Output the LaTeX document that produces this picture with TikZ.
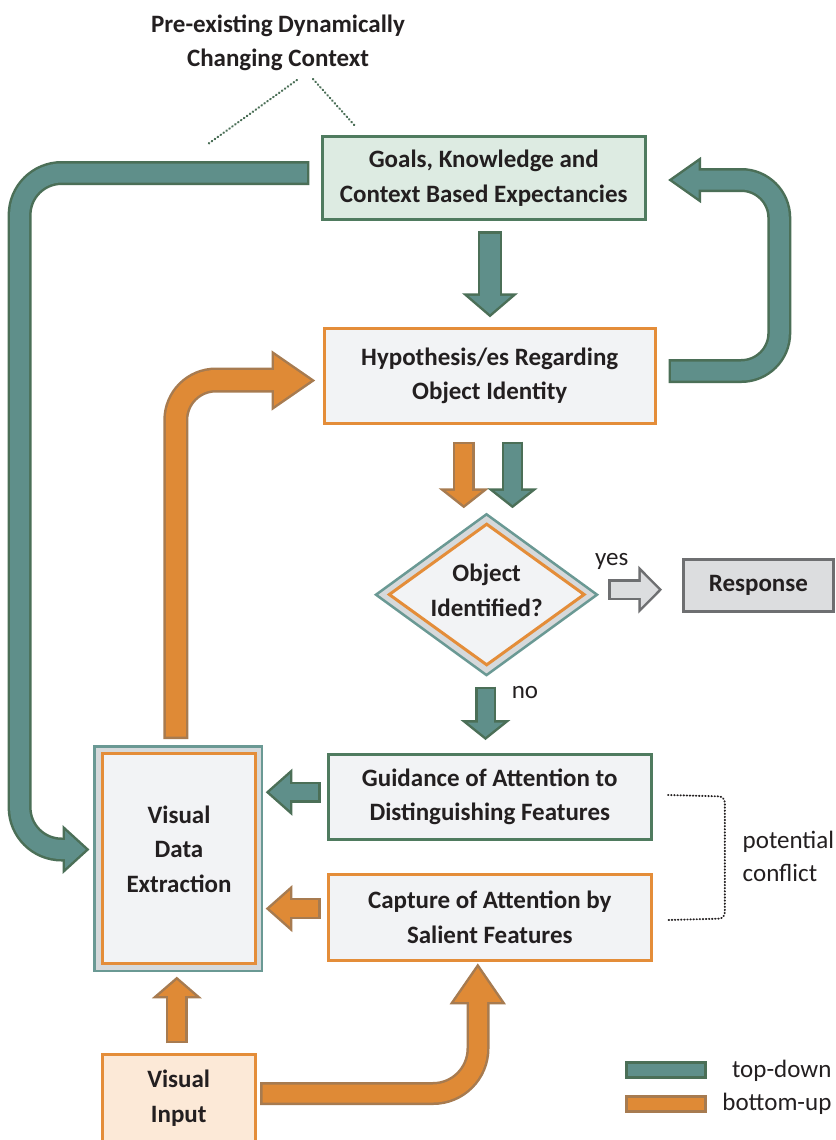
\documentclass[tikz,border=0pt]{standalone}
\usepackage{fontspec}
\setmainfont{Carlito}
\usetikzlibrary{calc}
\definecolor{tdfill}{HTML}{5F8F8A}
\definecolor{tdline}{HTML}{4B6F57}
\definecolor{bufill}{HTML}{DF8A36}
\definecolor{buline}{HTML}{A77B50}
\definecolor{boxorange}{HTML}{E48D39}
\definecolor{goalline}{HTML}{4F7B5F}
\definecolor{goalfill}{HTML}{DDEBE2}
\definecolor{boxfill}{HTML}{F2F3F5}
\definecolor{infill}{HTML}{FCE9D7}
\definecolor{vdeline}{HTML}{6A9994}
\definecolor{band}{HTML}{D6D9DB}
\definecolor{grayfill}{HTML}{DCDDDF}
\definecolor{grayline}{HTML}{6E6F71}
\definecolor{txt}{HTML}{231F20}
\newcommand\bxfont{\fontsize{25}{34.5}\selectfont\bfseries}
\newcommand\lbfont{\fontsize{25}{33.5}\selectfont}
% #1 fill, #2 line, #3 shaft width, #4 corner radius, #5 shaft path, #6 head path
\newcommand\fatarrow[6]{%
  \draw[draw=#2, line width=#3+5, rounded corners=#4, shorten <=-2.5, line cap=butt] #5;
  \filldraw[fill=#2, draw=#2, line width=5, line join=miter] #6;
  \draw[draw=#1, line width=#3, rounded corners=#4, shorten >=-1.5, line cap=butt] #5;
  \fill[fill=#1] #6;
}
\begin{document}
\begin{tikzpicture}[x=1pt,y=-1pt,
  box/.style={draw, line width=3pt, fill=boxfill, inner sep=0pt, align=center, text=txt, font=\bxfont},
  btxt/.style={inner sep=0pt, align=center, text=txt, font=\bxfont},
  lbl/.style={inner sep=0pt, text=txt, font=\lbfont, align=left},
  legbox/.style={line width=3pt, inner sep=0pt, minimum width=79pt, minimum height=15.5pt},
  dotg/.style={draw=tdline, line width=2.2pt, dash pattern=on 0.6pt off 3pt, line cap=round},
  dotk/.style={draw=txt, line width=1.9pt, dash pattern=on 0.5pt off 2.6pt, line cap=round},
]
\useasboundingbox[fill=white] (0,0) rectangle (835,1140);

% ---------- nodes ----------
\node[btxt] (ctx) at (278,42.6) {Pre-existing Dynamically\\Changing Context};
\node[box, draw=goalline, fill=goalfill, minimum width=323.5pt, minimum height=83pt] (goals) at (483.75,178) {Goals, Knowledge and\\Context Based Expectancies};
\node[box, draw=boxorange, minimum width=330.5pt, minimum height=95.3pt] (hyp) at (489.75,375.85) {Hypothesis/es Regarding\\Object Identity};

% decision diamond
\coordinate (dW) at (376,594.7);
\coordinate (dN) at (486.5,514.3);
\coordinate (dE) at (597,594.7);
\coordinate (dS) at (486.5,675.1);
\filldraw[draw=vdeline, fill=band, line width=2.5pt, line join=miter] (dW) -- (dN) -- (dE) -- (dS) -- cycle;
\filldraw[draw=boxorange, fill=boxfill, line width=3pt, line join=miter] (389.3,594.5) -- (486.7,524.2) -- (584.1,594.5) -- (486.7,664.8) -- cycle;
\node[btxt] (dec) at (486.7,590.5) {Object\\Identified?};

\node[box, draw=grayline, fill=grayfill, minimum width=150.3pt, minimum height=51.4pt] (resp) at (758.35,585.5) {Response};

\node[box, draw=goalline, minimum width=323.4pt, minimum height=85.3pt] (guid) at (489.8,796.85) {Guidance of Attention to\\Distinguishing Features};
\node[box, draw=boxorange, minimum width=323.4pt, minimum height=86pt] (capt) at (489.8,917.2) {Capture of Attention by\\Salient Features};

\node[draw=vdeline, fill=band, line width=2.5pt, inner sep=0pt, minimum width=167.2pt, minimum height=224.8pt] (vdeo) at (178.15,858.65) {};
\node[box, draw=boxorange, minimum width=153pt, minimum height=210.6pt] (vde) at (178.7,858.5) {};
\node[btxt] (vdet) at (179,849) {Visual\\Data\\Extraction};

\node[box, draw=boxorange, fill=infill, minimum width=153pt, minimum height=87.8pt] (visin) at (178.7,1098.1) {Visual\\Input};

% labels
\node[lbl, anchor=base] (yes) at (611.7,565) {yes};
\node[lbl, anchor=base] (no) at (525,698.3) {no};
\node[lbl, anchor=west] (conf) at (742.5,856.5) {potential\\conflict};

% legend
\node[legbox, draw=tdline, fill=tdfill] (lgtd) at (666,1070) {};
\node[legbox, draw=buline, fill=bufill] (lgbu) at (666,1104.2) {};
\node[lbl, anchor=base east] (ttd) at (831.6,1077) {top-down};
\node[lbl, anchor=base east] (tbu) at (831.6,1110.7) {bottom-up};

% ---------- dotted connectors ----------
\coordinate (c0) at (297,80);
\coordinate (c1) at (208,144);
\coordinate (c2) at (313,79);
\coordinate (c3) at (356,127);
\draw[dotg] (c0) -- (c1);
\draw[dotg] (c2) -- (c3);
\draw[dotk, rounded corners=6] (668,795) -- (724.8,796.5) -- (724.8,918.5) -- (668,920);

% ---------- fat arrows ----------
% goals -> hypothesis
\fatarrow{tdfill}{tdline}{19.7}{1}{(490,233.5) -- (490,295.8)}{(468.75,295.8) -- (490,314) -- (511.25,295.8) -- cycle}
% hypothesis -> decision (bottom-up / top-down)
\fatarrow{bufill}{buline}{17.3}{1}{(463.8,444.2) -- (463.8,490.8)}{(445.8,490.8) -- (463.8,505) -- (481.8,490.8) -- cycle}
\fatarrow{tdfill}{tdline}{16.6}{1}{(512.5,444.2) -- (512.5,490.8)}{(494.5,490.8) -- (512.5,505) -- (530.5,490.8) -- cycle}
% decision -> guidance (no)
\fatarrow{tdfill}{tdline}{16}{1}{(485.5,689.2) -- (485.5,722.5)}{(467.6,722.5) -- (485.5,736.8) -- (503.4,722.5) -- cycle}
% decision -> response (yes)
\fatarrow{grayfill}{grayline}{15.7}{1}{(610.8,589.7) -- (640.8,589.7)}{(640.8,571.8) -- (658.5,589.7) -- (640.8,607.6) -- cycle}
% guidance -> VDE
\fatarrow{tdfill}{tdline}{16}{1}{(318.2,792.2) -- (289.8,792.2)}{(289.8,774.2) -- (269.5,792.2) -- (289.8,810.2) -- cycle}
% capture -> VDE
\fatarrow{bufill}{buline}{16.6}{1}{(318.2,908.5) -- (289.8,908.5)}{(289.8,890.6) -- (269.5,908.6) -- (289.8,926.6) -- cycle}
% visual input -> VDE
\fatarrow{bufill}{buline}{16.7}{1}{(176.8,1040.8) -- (176.8,995.8)}{(158.5,995.8) -- (176.8,980) -- (195.1,995.8) -- cycle}
% visual input -> capture
\fatarrow{bufill}{buline}{18}{45}{(262.5,1093.5) -- (478,1093.5) -- (478,1001.8)}{(454.3,1001.8) -- (477.8,967.8) -- (501.2,1001.8) -- cycle}
% VDE -> hypothesis
\fatarrow{bufill}{buline}{20}{40}{(175.8,736.5) -- (175.8,380) -- (274.2,380)}{(274.2,355.2) -- (310.8,380.5) -- (274.2,405.8) -- cycle}
% hypothesis -> goals (loop right)
\fatarrow{tdfill}{tdline}{19}{38}{(671,371) -- (779.3,371) -- (779.3,180) -- (698.5,180)}{(698.5,161.65) -- (672.5,180) -- (698.5,198.35) -- cycle}
% goals -> VDE (loop left)
\fatarrow{tdfill}{tdline}{19}{42}{(306.8,173) -- (19.6,173) -- (19.6,849.5) -- (65.2,849.5)}{(65.2,830.8) -- (85.7,849.5) -- (65.2,868.2) -- cycle}
\end{tikzpicture}
\end{document}
